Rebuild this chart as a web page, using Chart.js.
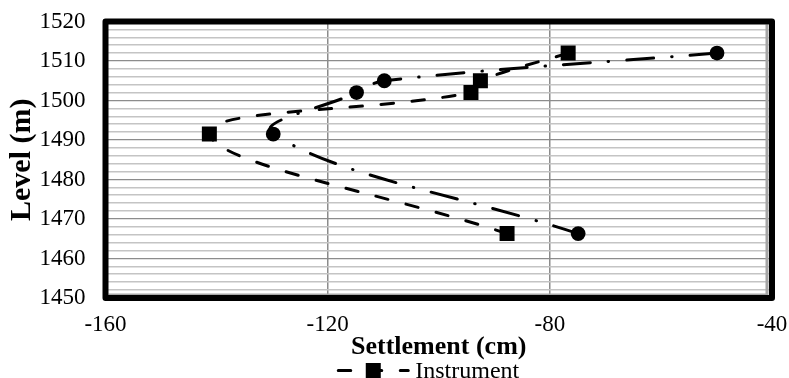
<!DOCTYPE html>
<html>
<head>
<meta charset="utf-8">
<script src="https://cdn.jsdelivr.net/npm/chart.js@4"></script>
<style>
  html, body { margin: 0; padding: 0; background: #fff; }
  #wrap { width: 789px; height: 378px; position: relative; }
</style>
</head>
<body>
<div id="wrap"><canvas id="settlementChart"></canvas></div>
<script>
// =============================
// values
// =============================
const levels = [1512, 1505, 1502, 1491.5, 1466.3];           // Level (m)
const instrumentSettlement = [-76.7, -92.5, -94.2, -141.3, -87.7];
const secondSettlement = [-49.9, -109.8, -114.8, -129.8, -74.9];

const xTickLabels = [-160, -120, -80, -40];
const yTickLabels = [1450, 1460, 1470, 1480, 1490, 1500, 1510, 1520];

const SERIF = '"Liberation Serif", "Times New Roman", serif';

function toPoints(xs, ys) {
  return xs.map((x, i) => ({ x: x, y: ys[i] }));
}

// thick black frame round the plot, with the grey inner line on the right
const framePlugin = {
  id: 'frame',
  beforeDatasetsDraw(chart) {
    const { ctx, chartArea: a } = chart;
    ctx.save();
    ctx.strokeStyle = '#a6a6a6';
    ctx.lineWidth = 3;
    ctx.beginPath();
    ctx.moveTo(a.right - 5, a.top + 3);
    ctx.lineTo(a.right - 5, a.bottom - 3);
    ctx.lineTo(a.left + 3, a.bottom - 3);
    ctx.stroke();
    ctx.strokeStyle = '#000';
    ctx.lineWidth = 6;
    ctx.lineJoin = 'round';
    ctx.strokeRect(a.left, a.top, a.right - a.left, a.bottom - a.top);
    ctx.restore();
  }
};

// legend with line + marker sample, like the spreadsheet one
const lineLegendPlugin = {
  id: 'lineLegend',
  afterDraw(chart) {
    const { ctx, chartArea: a } = chart;
    const ds = chart.data.datasets[0];
    ctx.save();
    ctx.font = '24px ' + SERIF;
    const tw = ctx.measureText(ds.label).width;
    const symW = 70, gap = 7;
    const x0 = (a.left + a.right) / 2 - 10 - (symW + gap + tw) / 2;
    const y = chart.height - 7.5;

    ctx.strokeStyle = ds.borderColor;
    ctx.lineWidth = ds.borderWidth;
    ctx.lineCap = 'round';
    ctx.setLineDash(ds.borderDash);
    ctx.beginPath();
    ctx.moveTo(x0, y);
    ctx.lineTo(x0 + symW, y);
    ctx.stroke();
    ctx.setLineDash([]);

    const side = 15;
    ctx.fillStyle = ds.pointBackgroundColor;
    ctx.fillRect(x0 + symW / 2 - side / 2, y - side / 2, side, side);

    ctx.fillStyle = '#000';
    ctx.textBaseline = 'alphabetic';
    ctx.textAlign = 'left';
    ctx.fillText(ds.label, x0 + symW + gap, chart.height);
    ctx.restore();
  }
};

const ctx = document.getElementById('settlementChart').getContext('2d');

new Chart(ctx, {
  type: 'scatter',
  data: {
    datasets: [
      {
        label: 'Instrument',
        data: toPoints(instrumentSettlement, levels),
        showLine: true,
        tension: 0.4,
        borderColor: '#000',
        borderWidth: 3,
        borderDash: [12.5, 18.5],
        borderCapStyle: 'round',
        pointStyle: 'rect',
        pointRadius: 10.6,
        pointBackgroundColor: '#000',
        pointBorderWidth: 0
      },
      {
        label: 'Series 2',
        data: toPoints(secondSettlement, levels),
        showLine: true,
        tension: 0.4,
        borderColor: '#000',
        borderWidth: 3,
        borderDash: [27, 18, 0.5, 18],
        borderCapStyle: 'round',
        pointStyle: 'circle',
        pointRadius: 7.4,
        pointBackgroundColor: '#000',
        pointBorderWidth: 0
      }
    ]
  },
  options: {
    responsive: true,
    maintainAspectRatio: false,
    animation: false,
    layout: { autoPadding: false, padding: { top: 21.5, right: 17, left: 0, bottom: 0 } },
    plugins: {
      legend: { display: false },
      tooltip: { enabled: false }
    },
    scales: {
      x: {
        type: 'linear',
        min: xTickLabels[0],
        max: xTickLabels[xTickLabels.length - 1],
        afterFit(scale) {
          scale.height = 80;
          scale.paddingLeft = 0;
          scale.paddingRight = 0;
        },
        ticks: {
          stepSize: 40,
          padding: 13,
          color: '#000',
          font: { family: SERIF, size: 23 }
        },
        grid: { color: '#8c8c8c', lineWidth: 1.5, drawTicks: false },
        border: { display: false },
        title: {
          display: true,
          text: 'Settlement (cm)',
          color: '#000',
          font: { family: SERIF, size: 26, weight: 'bold' },
          padding: { top: 0, bottom: 15 }
        }
      },
      y: {
        type: 'linear',
        min: yTickLabels[0],
        max: yTickLabels[yTickLabels.length - 1],
        afterFit(scale) {
          scale.width = 105.5;
          scale.paddingTop = 0;
          scale.paddingBottom = 0;
        },
        ticks: {
          stepSize: 2,
          autoSkip: false,
          padding: 20,
          color: '#000',
          font: { family: SERIF, size: 23 },
          callback: v => (yTickLabels.includes(v) ? String(v) : '')
        },
        grid: {
          drawTicks: false,
          color: c => (c.tick && c.tick.value % 10 === 0 ? '#8c8c8c' : '#c4c4c4'),
          lineWidth: c => (c.tick && c.tick.value % 10 === 0 ? 1.2 : 1.6)
        },
        border: { display: false },
        title: {
          display: true,
          text: 'Level (m)',
          color: '#000',
          font: { family: SERIF, size: 30, weight: 'bold' },
          padding: { top: 4, bottom: 0 }
        }
      }
    }
  },
  plugins: [framePlugin, lineLegendPlugin]
});
</script>
</body>
</html>
